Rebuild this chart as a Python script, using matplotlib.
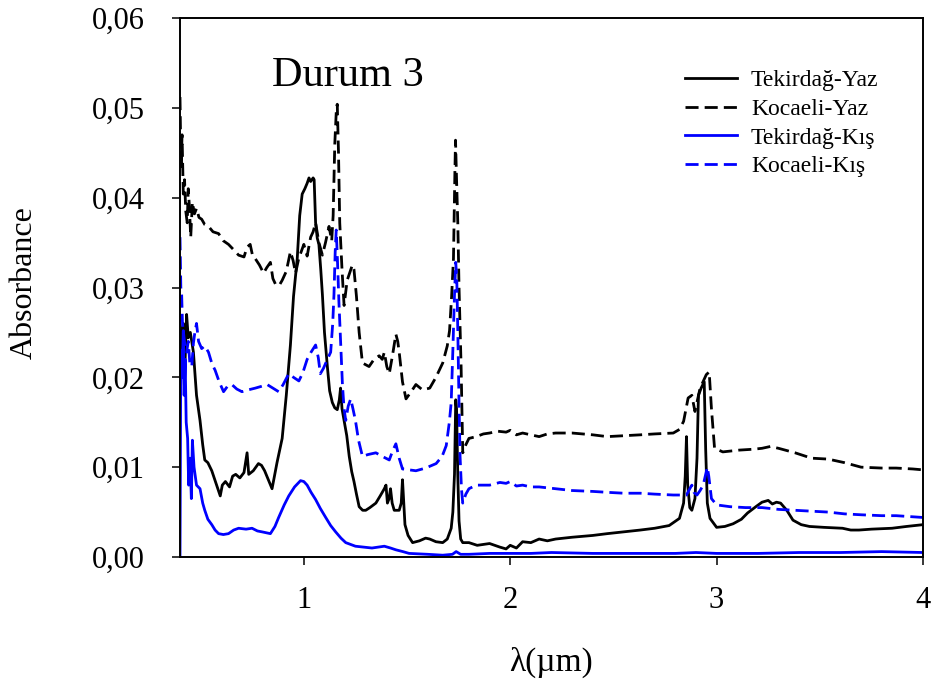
import matplotlib
matplotlib.use("Agg")
import matplotlib.pyplot as plt
from matplotlib.ticker import FuncFormatter, MultipleLocator

plt.rcParams['font.family'] = ['Liberation Serif', 'DejaVu Serif']

# wavelength (um) / absorbance pairs for each spectrum
tek_yaz_x = [0.400, 0.405, 0.416, 0.425, 0.432, 0.440, 0.450, 0.465, 0.480, 0.497,
             0.510, 0.520, 0.535, 0.554, 0.570, 0.585, 0.595, 0.605, 0.620, 0.640,
             0.655, 0.670, 0.690, 0.710, 0.725, 0.733, 0.755, 0.780, 0.795, 0.810,
             0.830, 0.846, 0.870, 0.895, 0.915, 0.935, 0.950, 0.968, 0.980, 0.992,
             1.005, 1.016, 1.025, 1.033, 1.045, 1.050, 1.057, 1.065, 1.073, 1.082,
             1.090, 1.100, 1.114, 1.125, 1.138, 1.150, 1.162, 1.172, 1.178, 1.185,
             1.195, 1.208, 1.220, 1.232, 1.243, 1.255, 1.268, 1.285, 1.300, 1.320,
             1.349, 1.370, 1.390, 1.398, 1.405, 1.413, 1.420, 1.428, 1.438, 1.462,
             1.472, 1.478, 1.484, 1.490, 1.505, 1.527, 1.560, 1.590, 1.610, 1.640,
             1.673, 1.695, 1.714, 1.722, 1.730, 1.736, 1.740, 1.746, 1.752, 1.760,
             1.770, 1.800, 1.840, 1.900, 1.950, 1.980, 2.000, 2.030, 2.060, 2.100,
             2.140, 2.180, 2.220, 2.300, 2.400, 2.470, 2.550, 2.630, 2.700, 2.770,
             2.820, 2.840, 2.848, 2.854, 2.860, 2.870, 2.880, 2.895, 2.905, 2.912,
             2.925, 2.940, 2.947, 2.955, 2.968, 3.000, 3.040, 3.080, 3.120, 3.150,
             3.190, 3.220, 3.250, 3.270, 3.290, 3.310, 3.340, 3.370, 3.410, 3.450,
             3.520, 3.610, 3.650, 3.690, 3.750, 3.850, 3.920, 4.000]
tek_yaz_y = [0.0210, 0.0250, 0.0260, 0.0220, 0.0270, 0.0244, 0.0250, 0.0228, 0.0180, 0.0152,
             0.0125, 0.0108, 0.0105, 0.0096, 0.0085, 0.0075, 0.0068, 0.0080, 0.0084, 0.0078,
             0.0090, 0.0092, 0.0088, 0.0094, 0.0116, 0.0092, 0.0096, 0.0104, 0.0102, 0.0096,
             0.0085, 0.0076, 0.0105, 0.0132, 0.0180, 0.0236, 0.0290, 0.0332, 0.0380, 0.0404,
             0.0410, 0.0416, 0.0422, 0.0418, 0.0422, 0.0420, 0.0372, 0.0355, 0.0348, 0.0320,
             0.0292, 0.0250, 0.0212, 0.0185, 0.0172, 0.0166, 0.0164, 0.0175, 0.0188, 0.0165,
             0.0152, 0.0135, 0.0112, 0.0095, 0.0084, 0.0070, 0.0056, 0.0052, 0.0052, 0.0055,
             0.0060, 0.0068, 0.0076, 0.0080, 0.0060, 0.0065, 0.0076, 0.0060, 0.0052, 0.0052,
             0.0060, 0.0086, 0.0060, 0.0036, 0.0024, 0.0016, 0.0018, 0.0021, 0.0020, 0.0017,
             0.0016, 0.0020, 0.0032, 0.0050, 0.0092, 0.0175, 0.0165, 0.0090, 0.0040, 0.0020,
             0.0016, 0.0016, 0.0013, 0.0015, 0.0011, 0.0009, 0.0013, 0.0010, 0.0017, 0.0016,
             0.0020, 0.0018, 0.0020, 0.0022, 0.0024, 0.0026, 0.0028, 0.0030, 0.0032, 0.0035,
             0.0043, 0.0060, 0.0090, 0.0134, 0.0080, 0.0055, 0.0052, 0.0065, 0.0110, 0.0180,
             0.0188, 0.0195, 0.0120, 0.0060, 0.0043, 0.0033, 0.0034, 0.0037, 0.0042, 0.0049,
             0.0056, 0.0061, 0.0063, 0.0059, 0.0061, 0.0060, 0.0052, 0.0041, 0.0036, 0.0034,
             0.0033, 0.0032, 0.0030, 0.0030, 0.0031, 0.0032, 0.0034, 0.0036]

koc_yaz_x = [0.400, 0.403, 0.405, 0.410, 0.416, 0.422, 0.428, 0.435, 0.440, 0.445,
             0.452, 0.460, 0.470, 0.480, 0.492, 0.505, 0.520, 0.538, 0.560, 0.587,
             0.610, 0.635, 0.660, 0.684, 0.710, 0.725, 0.740, 0.752, 0.765, 0.785,
             0.805, 0.820, 0.838, 0.850, 0.862, 0.880, 0.895, 0.915, 0.935, 0.948,
             0.960, 0.975, 1.000, 1.016, 1.033, 1.045, 1.057, 1.073, 1.090, 1.105,
             1.122, 1.135, 1.142, 1.150, 1.158, 1.162, 1.168, 1.174, 1.185, 1.195,
             1.203, 1.210, 1.225, 1.235, 1.243, 1.255, 1.268, 1.284, 1.300, 1.316,
             1.340, 1.365, 1.380, 1.390, 1.402, 1.414, 1.430, 1.446, 1.455, 1.462,
             1.478, 1.495, 1.520, 1.543, 1.575, 1.610, 1.640, 1.673, 1.695, 1.706,
             1.716, 1.725, 1.732, 1.735, 1.740, 1.746, 1.752, 1.762, 1.770, 1.785,
             1.800, 1.835, 1.870, 1.900, 1.940, 1.980, 2.000, 2.030, 2.060, 2.100,
             2.140, 2.180, 2.220, 2.300, 2.400, 2.470, 2.550, 2.630, 2.700, 2.790,
             2.820, 2.840, 2.862, 2.880, 2.895, 2.920, 2.950, 2.964, 2.975, 2.990,
             3.030, 3.110, 3.180, 3.220, 3.260, 3.300, 3.380, 3.460, 3.540, 3.620,
             3.700, 3.800, 3.870, 3.950, 4.000]
koc_yaz_y = [0.0512, 0.0460, 0.0432, 0.0470, 0.0404, 0.0420, 0.0385, 0.0372, 0.0410, 0.0392,
             0.0356, 0.0395, 0.0382, 0.0388, 0.0378, 0.0376, 0.0370, 0.0368, 0.0362, 0.0360,
             0.0352, 0.0348, 0.0342, 0.0336, 0.0334, 0.0345, 0.0348, 0.0335, 0.0332, 0.0325,
             0.0316, 0.0322, 0.0328, 0.0310, 0.0304, 0.0302, 0.0308, 0.0318, 0.0340, 0.0330,
             0.0316, 0.0332, 0.0348, 0.0335, 0.0356, 0.0362, 0.0372, 0.0350, 0.0336, 0.0350,
             0.0368, 0.0352, 0.0380, 0.0460, 0.0500, 0.0504, 0.0450, 0.0372, 0.0320, 0.0280,
             0.0295, 0.0308, 0.0318, 0.0325, 0.0320, 0.0290, 0.0250, 0.0216, 0.0214, 0.0212,
             0.0220, 0.0224, 0.0220, 0.0228, 0.0212, 0.0204, 0.0225, 0.0248, 0.0240, 0.0228,
             0.0195, 0.0176, 0.0184, 0.0192, 0.0186, 0.0188, 0.0200, 0.0216, 0.0235, 0.0252,
             0.0290, 0.0332, 0.0430, 0.0464, 0.0420, 0.0372, 0.0300, 0.0212, 0.0116, 0.0125,
             0.0132, 0.0134, 0.0137, 0.0138, 0.0140, 0.0139, 0.0141, 0.0136, 0.0138, 0.0136,
             0.0134, 0.0137, 0.0138, 0.0138, 0.0136, 0.0134, 0.0135, 0.0136, 0.0137, 0.0138,
             0.0142, 0.0151, 0.0177, 0.0180, 0.0162, 0.0188, 0.0203, 0.0206, 0.0165, 0.0121,
             0.0117, 0.0119, 0.0120, 0.0121, 0.0123, 0.0121, 0.0116, 0.0110, 0.0109, 0.0105,
             0.0100, 0.0099, 0.0099, 0.0098, 0.0097]

tek_kis_x = [0.400, 0.403, 0.406, 0.410, 0.416, 0.420, 0.425, 0.430, 0.437, 0.442,
             0.449, 0.455, 0.460, 0.468, 0.480, 0.497, 0.510, 0.520, 0.535, 0.554,
             0.570, 0.587, 0.610, 0.635, 0.660, 0.684, 0.720, 0.749, 0.775, 0.797,
             0.838, 0.860, 0.878, 0.905, 0.927, 0.955, 0.984, 1.000, 1.016, 1.035,
             1.057, 1.080, 1.106, 1.130, 1.154, 1.180, 1.203, 1.250, 1.290, 1.330,
             1.360, 1.390, 1.420, 1.446, 1.480, 1.510, 1.600, 1.673, 1.720, 1.738,
             1.760, 1.800, 1.900, 2.000, 2.100, 2.200, 2.400, 2.600, 2.800, 2.900,
             3.000, 3.200, 3.400, 3.600, 3.800, 4.000]
tek_kis_y = [0.0000, 0.0180, 0.0230, 0.0200, 0.0252, 0.0180, 0.0220, 0.0150, 0.0132, 0.0080,
             0.0110, 0.0065, 0.0130, 0.0100, 0.0080, 0.0076, 0.0060, 0.0052, 0.0042, 0.0036,
             0.0030, 0.0026, 0.0025, 0.0026, 0.0030, 0.0032, 0.0031, 0.0032, 0.0029, 0.0028,
             0.0026, 0.0034, 0.0044, 0.0058, 0.0068, 0.0078, 0.0085, 0.0084, 0.0080, 0.0072,
             0.0064, 0.0054, 0.0044, 0.0035, 0.0028, 0.0021, 0.0016, 0.0012, 0.0011, 0.0010,
             0.0011, 0.0012, 0.0010, 0.0008, 0.0006, 0.0004, 0.0003, 0.0002, 0.0003, 0.0006,
             0.0003, 0.0003, 0.0004, 0.0004, 0.0004, 0.0005, 0.0004, 0.0004, 0.0004, 0.0005,
             0.0004, 0.0004, 0.0005, 0.0005, 0.0006, 0.0005]

koc_kis_x = [0.400, 0.404, 0.408, 0.412, 0.416, 0.424, 0.432, 0.440, 0.448, 0.457,
             0.465, 0.472, 0.480, 0.490, 0.505, 0.520, 0.538, 0.555, 0.570, 0.590,
             0.611, 0.630, 0.651, 0.675, 0.700, 0.730, 0.765, 0.795, 0.822, 0.850,
             0.878, 0.900, 0.927, 0.950, 0.976, 0.995, 1.016, 1.035, 1.057, 1.070,
             1.080, 1.095, 1.114, 1.130, 1.140, 1.146, 1.152, 1.157, 1.163, 1.170,
             1.180, 1.187, 1.195, 1.203, 1.215, 1.227, 1.238, 1.250, 1.265, 1.284,
             1.310, 1.349, 1.380, 1.414, 1.430, 1.446, 1.462, 1.478, 1.510, 1.543,
             1.590, 1.641, 1.670, 1.690, 1.705, 1.714, 1.722, 1.730, 1.736, 1.741,
             1.746, 1.752, 1.757, 1.764, 1.770, 1.785, 1.800, 1.835, 1.900, 1.950,
             1.980, 2.000, 2.030, 2.060, 2.100, 2.140, 2.180, 2.220, 2.300, 2.400,
             2.470, 2.550, 2.630, 2.700, 2.790, 2.854, 2.870, 2.880, 2.890, 2.905,
             2.920, 2.935, 2.955, 2.962, 2.975, 3.000, 3.065, 3.140, 3.220, 3.300,
             3.380, 3.460, 3.540, 3.620, 3.700, 3.800, 3.870, 4.000]
koc_kis_y = [0.0356, 0.0300, 0.0292, 0.0260, 0.0252, 0.0235, 0.0228, 0.0240, 0.0215, 0.0212,
             0.0238, 0.0250, 0.0260, 0.0240, 0.0232, 0.0235, 0.0228, 0.0215, 0.0208, 0.0195,
             0.0184, 0.0190, 0.0192, 0.0187, 0.0184, 0.0186, 0.0188, 0.0190, 0.0192, 0.0188,
             0.0184, 0.0192, 0.0204, 0.0200, 0.0196, 0.0205, 0.0220, 0.0228, 0.0236, 0.0222,
             0.0204, 0.0210, 0.0220, 0.0228, 0.0260, 0.0292, 0.0340, 0.0364, 0.0330, 0.0284,
             0.0230, 0.0192, 0.0165, 0.0152, 0.0168, 0.0176, 0.0165, 0.0152, 0.0130, 0.0112,
             0.0114, 0.0116, 0.0112, 0.0108, 0.0118, 0.0126, 0.0110, 0.0098, 0.0097, 0.0096,
             0.0099, 0.0104, 0.0112, 0.0124, 0.0150, 0.0172, 0.0230, 0.0292, 0.0328, 0.0310,
             0.0252, 0.0170, 0.0112, 0.0075, 0.0060, 0.0070, 0.0076, 0.0080, 0.0080, 0.0083,
             0.0082, 0.0084, 0.0079, 0.0080, 0.0078, 0.0078, 0.0077, 0.0076, 0.0074, 0.0073,
             0.0072, 0.0071, 0.0071, 0.0070, 0.0069, 0.0069, 0.0076, 0.0080, 0.0072, 0.0069,
             0.0074, 0.0080, 0.0100, 0.0090, 0.0065, 0.0058, 0.0056, 0.0055, 0.0055, 0.0053,
             0.0052, 0.0051, 0.0050, 0.0048, 0.0047, 0.0046, 0.0046, 0.0044]

labels = ['Tekirdağ-Yaz', 'Kocaeli-Yaz', 'Tekirdağ-Kış', 'Kocaeli-Kış']

fig = plt.figure(figsize=(9.31, 6.84), dpi=100)
ax = fig.add_axes([180 / 931, 127 / 684, 743 / 931, 539 / 684])

lw = 2.0
dash = (4.7, 2.2)
ax.plot(tek_yaz_x, tek_yaz_y, color='black', lw=lw, label=labels[0])
ax.plot(koc_yaz_x, koc_yaz_y, color='black', lw=lw, ls=(0, dash), label=labels[1])
ax.plot(tek_kis_x, tek_kis_y, color='#0000ff', lw=lw, label=labels[2])
ax.plot(koc_kis_x, koc_kis_y, color='#0000ff', lw=lw, ls=(0, dash), label=labels[3])

ax.set_xlim(0.4, 4.0)
ax.set_ylim(0, 0.06)
ax.xaxis.set_major_locator(MultipleLocator(1))
ax.yaxis.set_major_locator(MultipleLocator(0.01))
ax.yaxis.set_major_formatter(FuncFormatter(lambda v, p: f"{v:.2f}".replace('.', ',')))
ax.tick_params(direction='out', length=5.8, width=1.1, labelsize=22)
ax.tick_params(axis='y', pad=19.5)
ax.tick_params(axis='x', pad=15)
for s in ax.spines.values():
    s.set_linewidth(1.4)

ax.set_ylabel('Absorbance', fontsize=23)
ax.yaxis.set_label_coords(-0.190, 0.51)
ax.set_xlabel('λ(µm)', fontsize=24)
ax.xaxis.set_label_coords(0.50, -0.167)

ax.text(0.124, 0.893, 'Durum 3', transform=ax.transAxes, fontsize=30.5,
        ha='left', va='center')

ax.legend(loc='upper left', bbox_to_anchor=(673 / 931, 1 - 58 / 684),
          bbox_transform=fig.transFigure, frameon=False, borderpad=0,
          fontsize=17, handlelength=2.2, handletextpad=0.6, labelspacing=0.3)

fig.savefig('out.png', dpi=100)
